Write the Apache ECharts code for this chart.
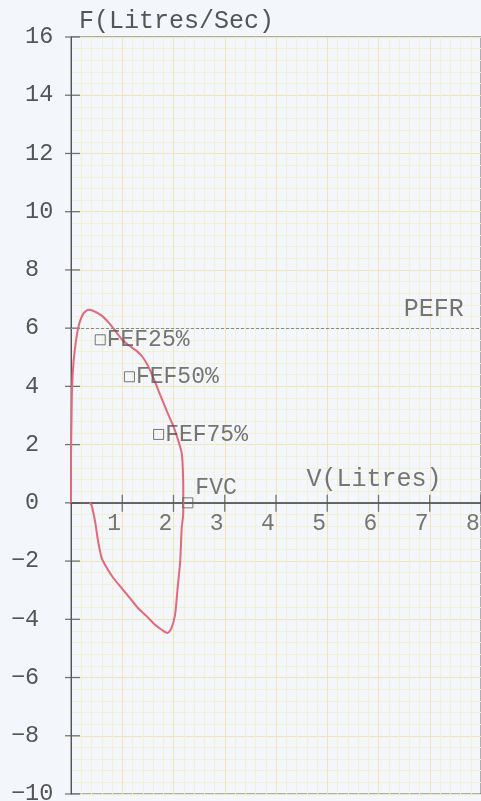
<!DOCTYPE html>
<html><head><meta charset="utf-8">
<script src="https://cdn.jsdelivr.net/npm/echarts@6/dist/echarts.min.js"></script>
<style>html,body{margin:0;padding:0;background:#f3f6fa;}#c{width:481px;height:801px;}</style>
</head><body><div id="c"></div>
<script>
// Expiratory limb (volume L, flow L/s)
const expVolume = [0, 0.0, 0.01, 0.02, 0.05, 0.10, 0.16, 0.24, 0.34, 0.44, 0.60, 0.73, 0.86, 0.99, 1.12, 1.28, 1.40, 1.51, 1.61, 1.74, 1.87, 2.00, 2.09, 2.16, 2.18, 2.19, 2.19];
const expFlow   = [0, 1.5, 2.8, 3.9, 4.85, 5.6, 6.15, 6.5, 6.63, 6.59, 6.43, 6.2, 5.92, 5.62, 5.42, 5.22, 5.0, 4.68, 4.28, 3.71, 3.15, 2.62, 2.16, 1.71, 1.25, 0.56, 0];
// Inspiratory limb
const inspVolume = [2.19, 2.16, 2.13, 2.08, 2.03, 1.96, 1.88, 1.77, 1.64, 1.48, 1.31, 1.15, 0.99, 0.83, 0.70, 0.60, 0.53, 0.47, 0.40, 0.36];
const inspFlow   = [-0.35, -0.87, -2.02, -2.93, -3.85, -4.30, -4.47, -4.36, -4.19, -3.90, -3.62, -3.27, -2.93, -2.59, -2.24, -1.90, -1.33, -0.64, -0.07, 0.0];
// Markers
const markerNames  = ['FEF25%', 'FEF50%', 'FEF75%', 'FVC'];
const markerVolume = [0.57, 1.14, 1.71, 2.28];
const markerFlow   = [5.60, 4.33, 2.35, 0.0];
// Reference line
const pefrFlow = 6;
// Annotations
const noteText   = ['V(Litres)', 'PEFR'];
const noteVolume = [5.91, 7.08];
const noteFlow   = [0.82, 6.63];
// Axes
const xMin = 0, xMax = 8, xStep = 1;
const yMin = -10, yMax = 16, yStep = 2;
const xTickValues = [1, 2, 3, 4, 5, 6, 7, 8];
const xTickLabels = ['1', '2', '3', '4', '5', '6', '7', '8'];
const yTickValues = [16, 14, 12, 10, 8, 6, 4, 2, 0, -2, -4, -6, -8, -10];
const yTitle = 'F(Litres/Sec)';

const FONT = '"Liberation Mono", "Courier New", monospace';
const TXT = '#555';
const curve = [];
expVolume.forEach((v, i) => curve.push([v, expFlow[i]]));
inspVolume.forEach((v, i) => curve.push([v, inspFlow[i]]));

const markers = markerNames.map((n, i) => {
  const d = { name: n, value: [markerVolume[i], markerFlow[i]] };
  if (n === 'FVC') d.label = { offset: [0, -15], distance: 2 };
  return d;
});
const notes = noteText.map((t, i) => ({ name: t, value: [noteVolume[i], noteFlow[i]] }));
const xTickMarks = xTickValues.map((v, i) => ({ name: xTickLabels[i], value: [v, 0] }));
const yTickMarks = yTickValues.map(v => ({ value: [0, v] }));

const chart = echarts.init(document.getElementById('c'), null, { renderer: 'canvas' });
chart.setOption({
  backgroundColor: '#f3f6fa',
  animation: false,
  title: { text: yTitle, left: 74, top: 4, textStyle: { fontFamily: FONT, fontSize: 25, fontWeight: 'normal', color: TXT } },
  grid: { left: 71, right: 0, top: 37, bottom: 7, containLabel: false, outerBoundsMode: 'none',
          show: true, borderColor: '#666', borderWidth: 1, backgroundColor: 'transparent' },
  xAxis: {
    type: 'value', min: xMin, max: xMax, interval: xStep, position: 'bottom',
    axisLine: { onZero: true, lineStyle: { color: '#3a3a3a', width: 1.5 } },
    axisTick: { show: false },
    axisLabel: { show: false },
    splitLine: { show: true, lineStyle: { color: '#efe5b8', width: 1 } },
    minorTick: { show: false, splitNumber: 5 },
    minorSplitLine: { show: true, lineStyle: { color: '#f4f0d8', width: 1 } }
  },
  yAxis: {
    type: 'value', min: yMin, max: yMax, interval: yStep,
    axisLine: { show: true, onZero: false, lineStyle: { color: '#555', width: 1 } },
    axisTick: { show: false },
    axisLabel: { align: 'left', margin: 60, formatter: v => (v < 0 ? '\u2212' + (-v) : ' ' + v), fontFamily: FONT, fontSize: 23.5, color: TXT },
    splitLine: { show: true, lineStyle: { color: '#efe5b8', width: 1 } },
    minorTick: { show: false, splitNumber: 5 },
    minorSplitLine: { show: true, lineStyle: { color: '#f4f0d8', width: 1 } }
  },
  series: [{
    type: 'line', data: curve, showSymbol: false, smooth: 0.25,
    lineStyle: { color: '#e2687c', width: 2 }, z: 4,
    markLine: {
      silent: true, symbol: 'none', label: { show: false },
      lineStyle: { color: '#8a8a8a', type: [3, 2], width: 1 },
      data: [{ yAxis: pefrFlow }]
    }
  }, {
    type: 'scatter', data: markers, symbol: 'rect', symbolSize: 10,
    itemStyle: { color: 'transparent', borderColor: '#555', borderWidth: 1 },
    label: { show: true, position: 'right', distance: 1, formatter: p => p.name, fontFamily: FONT, fontSize: 23, color: TXT },
    z: 5
  }, {
    type: 'scatter', data: notes, symbolSize: 1,
    itemStyle: { color: 'transparent' },
    label: { show: true, position: 'inside', formatter: p => p.name, fontFamily: FONT, fontSize: 25, color: TXT },
    z: 5
  }, {
    // x-axis ticks (crossing the axis line) and their labels
    type: 'scatter', data: xTickMarks, symbol: 'rect', symbolSize: [1.3, 17], symbolOffset: [0, 0.5],
    itemStyle: { color: '#555' }, silent: true,
    label: { show: true, position: 'bottom', distance: 1, offset: [-8, 0], formatter: p => p.name, fontFamily: FONT, fontSize: 23, color: TXT },
    z: 3
  }, {
    // y-axis ticks crossing the axis line
    type: 'scatter', data: yTickMarks, symbol: 'rect', symbolSize: [15, 1.3], symbolOffset: [1.5, 0],
    itemStyle: { color: '#555' }, silent: true, z: 3
  }]
});
</script></body></html>
